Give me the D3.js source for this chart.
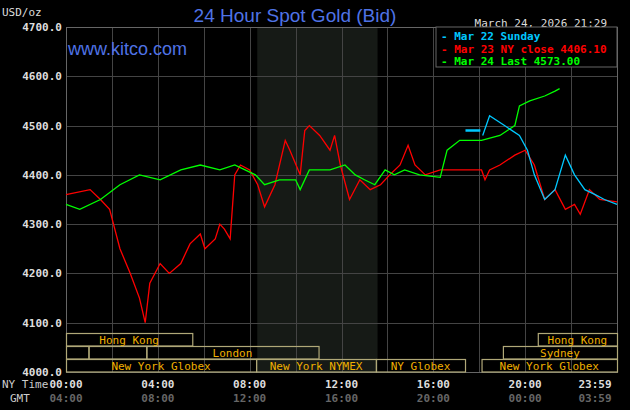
<!DOCTYPE html><html><head><meta charset="utf-8">
<script src="https://cdn.jsdelivr.net/npm/d3@7"></script>
<style>body{margin:0;background:#000}svg{display:block}</style></head><body>
<svg id="c" width="630" height="410"></svg>
<script>
const yTicks=[4000,4100,4200,4300,4400,4500,4600,4700];
const nyLabels=["00:00","04:00","08:00","12:00","16:00","20:00","23:59"];
const gmtLabels=["04:00","08:00","12:00","16:00","20:00","00:00","03:59"];
const labelHours=[0,4,8,12,16,20,24];
const redHours=[0,1.05,1.5,1.9,2.35,2.8,3.2,3.45,3.65,4.1,4.5,5.0,5.4,5.85,6.05,6.5,6.7,6.9,7.15,7.35,7.6,8.0,8.35,8.65,9.1,9.55,9.75,10.2,10.4,10.6,11.05,11.5,11.7,11.95,12.35,12.8,13.25,13.7,14.1,14.55,14.9,15.2,15.65,16.3,18.1,18.25,18.45,18.9,19.55,20.0,20.4,20.85,21.3,21.75,22.15,22.4,22.8,23.25,24];
const redVals=[4360,4370,4350,4330,4250,4200,4150,4100,4180,4220,4200,4220,4260,4280,4250,4270,4300,4290,4270,4400,4420,4410,4380,4335,4380,4470,4450,4400,4490,4500,4480,4450,4480,4420,4350,4390,4370,4380,4400,4420,4460,4420,4400,4410,4410,4390,4410,4420,4440,4450,4420,4350,4370,4330,4340,4320,4370,4350,4345];
const greenHours=[0,0.6,1.5,2.35,3.2,4.1,5.0,5.85,6.7,7.35,7.8,8.25,8.65,9.3,10.0,10.2,10.6,11.5,12.15,12.6,13.0,13.45,13.9,14.3,14.75,15.4,16.3,16.6,17.15,18.1,18.9,19.55,19.75,20.2,20.85,21.3,21.5];
const greenVals=[4340,4330,4350,4380,4400,4390,4410,4420,4410,4420,4410,4400,4380,4390,4390,4370,4410,4410,4420,4400,4390,4380,4410,4400,4410,4400,4395,4450,4470,4470,4480,4500,4540,4550,4560,4570,4575];
const cyanHours=[17.4,18.05,18.15,18.45,19.1,19.75,20.1,20.4,20.85,21.3,21.75,22.15,22.6,23.05,23.45,24];
const cyanVals=[4490,4490,4480,4520,4500,4480,4450,4400,4350,4370,4440,4400,4370,4360,4350,4340];
const legend=[["Mar 22 Sunday","#00c8ff"],["Mar 23 NY close 4406.10","#ff0000"],["Mar 24 Last 4573.00","#00ff00"]];
const sessions=[
 {row:0,a:0,b:5.5,t:"Hong Kong"},{row:0,a:20.55,b:24,t:"Hong Kong"},
 {row:1,a:0,b:0.98,t:""},{row:1,a:0.98,b:3.5,t:""},{row:1,a:3.5,b:11,t:"London"},{row:1,a:19.03,b:24,t:"Sydney"},
 {row:2,a:0,b:8.28,t:"New York Globex"},{row:2,a:8.28,b:13.5,t:"New York NYMEX"},{row:2,a:13.5,b:17.38,t:"NY Globex"},{row:2,a:18.1,b:24,t:"New York Globex"}];

const svg=d3.select("#c");
const L=66,R=617,T=27,B=372;
const x=d3.scaleLinear().domain([0,24]).range([L,R]);
const y=d3.scaleLinear().domain([4000,4700]).range([B,T]);
const mono="'DejaVu Sans Mono',monospace";
svg.append("rect").attr("x",x(8.33)).attr("y",T).attr("width",x(13.57)-x(8.33)).attr("height",B-T).attr("fill","#161a16");
const g=svg.append("g").attr("stroke","#444").attr("stroke-width",1);
d3.range(0,25,2).forEach(h=>g.append("line").attr("x1",Math.round(x(h))+.5).attr("x2",Math.round(x(h))+.5).attr("y1",T).attr("y2",B));
yTicks.forEach(v=>g.append("line").attr("x1",L).attr("x2",R).attr("y1",Math.round(y(v))+.5).attr("y2",Math.round(y(v))+.5));
svg.append("rect").attr("x",L+.5).attr("y",T+.5).attr("width",R-L).attr("height",B-T).attr("fill","none").attr("stroke","#666");
yTicks.forEach(v=>svg.append("text").attr("x",62).attr("y",y(v)+4).attr("text-anchor","end").attr("fill","#ddd").attr("font-family",mono).attr("font-weight","bold").attr("font-size",11).text(v.toFixed(1)));
svg.append("text").attr("x",2).attr("y",16).attr("fill","#ddd").attr("font-family",mono).attr("font-size",11).text("USD/oz");
svg.append("text").attr("x",295).attr("y",22).attr("text-anchor","middle").attr("fill","#4f73e6").attr("font-family","'Liberation Sans',Arial").attr("font-size",19).text("24 Hour Spot Gold (Bid)");
svg.append("text").attr("x",607).attr("y",27).attr("text-anchor","end").attr("fill","#ddd").attr("font-family",mono).attr("font-size",11).text("March 24, 2026 21:29");
svg.append("text").attr("x",68).attr("y",55).attr("fill","#4f73e6").attr("font-family","'Liberation Sans',Arial").attr("font-size",18).text("www.kitco.com");
// legend
svg.append("rect").attr("x",436).attr("y",T).attr("width",R-436).attr("height",40).attr("fill","#000").attr("stroke","#666");
legend.forEach((d,i)=>{const yy=T+13+i*12.5;
 svg.append("text").attr("x",441).attr("y",yy).attr("fill",d[1]).attr("font-family",mono).attr("font-weight","bold").attr("font-size",11).text("- "+d[0]).attr("textLength",null);});
// lines
const line=d3.line().x(d=>x(d[0])).y(d=>y(d[1]));
[[redHours,redVals,"#ff0000"],[greenHours,greenVals,"#00ff00"]].forEach(([h,v,c])=>svg.append("path").attr("d",line(h.map((t,i)=>[t,v[i]]))).attr("fill","none").attr("stroke",c).attr("stroke-width",1.3));
const cy=cyanHours.map((t,i)=>[t,cyanVals[i]]);
svg.append("path").attr("d",line(cy.slice(0,2))).attr("fill","none").attr("stroke","#00c8ff").attr("stroke-width",2.5);
svg.append("path").attr("d",line(cy.slice(2))).attr("fill","none").attr("stroke","#00c8ff").attr("stroke-width",1.3);
// sessions
const rowY=[333,346,359];
sessions.forEach(s=>{svg.append("rect").attr("x",x(s.a)+.5).attr("y",rowY[s.row]+.5).attr("width",x(s.b)-x(s.a)).attr("height",12.5).attr("fill","none").attr("stroke","#b0a878").attr("stroke-width",1.2);
 if(s.t)svg.append("text").attr("x",(x(s.a)+x(s.b))/2).attr("y",rowY[s.row]+10.5).attr("text-anchor","middle").attr("fill","#f0b000").attr("font-family",mono).attr("font-size",11).text(s.t);});
// x labels
svg.append("text").attr("x",2).attr("y",388).attr("fill","#ccc").attr("font-family",mono).attr("font-size",11).text("NY Time");
svg.append("text").attr("x",10).attr("y",402).attr("fill","#ccc").attr("font-family",mono).attr("font-size",11).text("GMT");
labelHours.forEach((h,i)=>{const xx=i==6?x(h)-22:x(h);
 svg.append("text").attr("x",xx).attr("y",388).attr("text-anchor","middle").attr("fill","#ddd").attr("font-family",mono).attr("font-weight","bold").attr("font-size",11).text(nyLabels[i]);
 svg.append("text").attr("x",xx).attr("y",402).attr("text-anchor","middle").attr("fill","#666").attr("font-family",mono).attr("font-weight","bold").attr("font-size",11).text(gmtLabels[i]);});
</script></body></html>
